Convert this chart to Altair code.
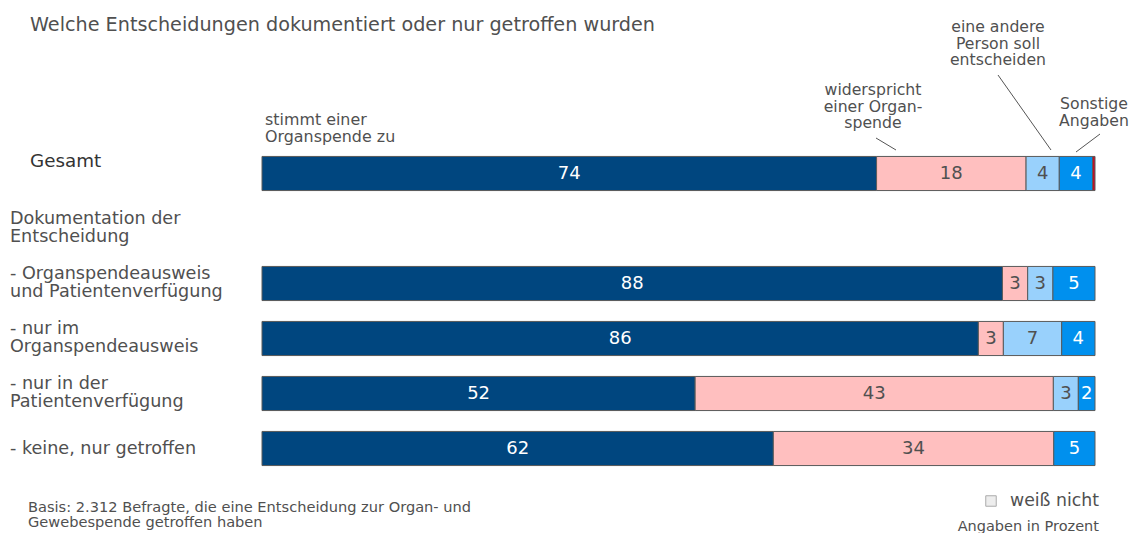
import altair as alt
import pandas as pd

# ---- data ----
rows = ["Gesamt", "Dokumentation", "OA+PV", "nur OA", "nur PV", "keine"]
row_labels = [
    ["Gesamt"],
    ["Dokumentation der", "Entscheidung"],
    ["- Organspendeausweis", "und Patientenverfügung"],
    ["-  nur im", "Organspendeausweis"],
    ["-  nur in der", "Patientenverfügung"],
    ["- keine, nur getroffen"],
]
categories = ["stimmt zu", "widerspricht", "andere Person", "Sonstige", "rot"]
stimmt_zu = [74, None, 88, 86, 52, 62]
widerspricht = [18, None, 3, 3, 43, 34]
andere_person = [4, None, 3, 7, 3, 0]
sonstige = [4, None, 5, 4, 2, 5]
rest = [0.3, None, 0, 0, 0, 0]

series = [stimmt_zu, widerspricht, andere_person, sonstige, rest]
recs = []
for ci, (cat, vals) in enumerate(zip(categories, series)):
    for r, v in zip(rows, vals):
        if v is None or v == 0:
            continue
        recs.append({"row": r, "cat": cat, "order": ci, "value": v,
                     "label": "" if cat == "rot" else str(v)})
df = pd.DataFrame(recs)
lab_df = pd.DataFrame({"row": rows, "text": row_labels,
                       "n": [len(t) for t in row_labels]})

colors = ["#00467f", "#ffbfbf", "#99d1fc", "#0090ee", "#c0102a"]
GREY = "#505050"
FONT = "DejaVu Sans"

yenc = alt.Y("row:N", scale=alt.Scale(domain=rows, paddingInner=0.38, paddingOuter=0.19), axis=None)
xscale = alt.Scale(domain=[0, 1], nice=False)

base = alt.Chart(df).transform_joinaggregate(
    total="sum(value)", groupby=["row"]
).transform_window(
    cum="sum(value)", sort=[alt.SortField("order")], groupby=["row"], frame=[None, 0]
).transform_calculate(
    start="(datum.cum - datum.value) / datum.total",
    end="datum.cum / datum.total",
    mid="(datum.cum - datum.value / 2) / datum.total",
)

bars = base.mark_bar(stroke="#5a5a5a", strokeWidth=1).encode(
    y=yenc,
    x=alt.X("start:Q", scale=xscale, axis=None),
    x2="end:Q",
    color=alt.Color("cat:N", scale=alt.Scale(domain=categories, range=colors), legend=None),
)

seg_text = base.mark_text(font=FONT, fontSize=18, baseline="middle", align="center").encode(
    y=yenc,
    x=alt.X("mid:Q", scale=xscale, axis=None),
    text="label:N",
    color=alt.condition("datum.cat == 'stimmt zu' || datum.cat == 'Sonstige'",
                        alt.value("white"), alt.value(GREY)),
)

row_text2 = alt.Chart(lab_df).transform_filter("datum.row != 'Gesamt' && datum.n == 2").mark_text(
    font=FONT, fontSize=17.6, align="left", baseline="middle", lineHeight=18.5, dy=-10, color=GREY
).encode(y=yenc, x=alt.value(-252), text="text")

row_text1 = alt.Chart(lab_df).transform_filter("datum.row != 'Gesamt' && datum.n == 1").mark_text(
    font=FONT, fontSize=17.6, align="left", baseline="middle", color=GREY
).encode(y=yenc, x=alt.value(-252), text="text")

gesamt_text = alt.Chart(lab_df).transform_filter("datum.row == 'Gesamt'").mark_text(
    font=FONT, fontSize=18.3, align="left", baseline="middle", dy=-12, color="#333333"
).encode(y=yenc, x=alt.value(-232), text="text")

one = alt.Data(values=[{"a": 0}])


def note(txt, x, y, size=15.7, align="left", lh=16.5, color=GREY):
    return alt.Chart(one).mark_text(
        font=FONT, fontSize=size, align=align, baseline="middle", lineHeight=lh, color=color
    ).encode(x=alt.value(x), y=alt.value(y), text=alt.value(txt))


def line(x1, y1, x2, y2):
    return alt.Chart(one).mark_rule(color="#555555", strokeWidth=1).encode(
        x=alt.value(x1), y=alt.value(y1), x2=alt.value(x2), y2=alt.value(y2))


title = note("Welche Entscheidungen dokumentiert oder nur getroffen wurden", -232, -121, size=19.2)
n1 = note(["stimmt einer", "Organspende zu"], 3, -26, size=15.9, lh=17)
n2 = note(["widerspricht", "einer Organ-", "spende"], 611, -56, align="center")
n3 = note(["eine andere", "Person soll", "entscheiden"], 736, -119, align="center")
n4 = note(["Sonstige", "Angaben"], 832, -42, align="center")
l2 = line(614, -8, 634, 4)
l3 = line(736, -71, 789, 4)
l4 = line(838, -12, 814, 6)

basis = note(["Basis: 2.312 Befragte, die eine Entscheidung zur Organ- und",
              "Gewebespende  getroffen haben"], -234, 362, size=14.6, lh=15)
leg_sq = alt.Chart(one).mark_square(size=110, fill="#e6e6e6", stroke="#888888", strokeWidth=1).encode(
    x=alt.value(729), y=alt.value(355))
leg_txt = note("weiß nicht", 748, 355, size=17.3)
prozent = note("Angaben in Prozent", 837, 381, size=14.5, align="right")

chart = alt.layer(
    bars, seg_text, row_text2, row_text1, gesamt_text, title, n1, n2, n3, n4, l2, l3, l4,
    basis, leg_sq, leg_txt, prozent
).properties(
    width=833, height=330,
    autosize=alt.AutoSizeParams(type="none"),
    padding={"left": 254, "top": 138, "right": 35, "bottom": 57},
).configure_view(strokeWidth=0)

chart.save("out.html", embed_options={"renderer": "svg", "actions": False})
